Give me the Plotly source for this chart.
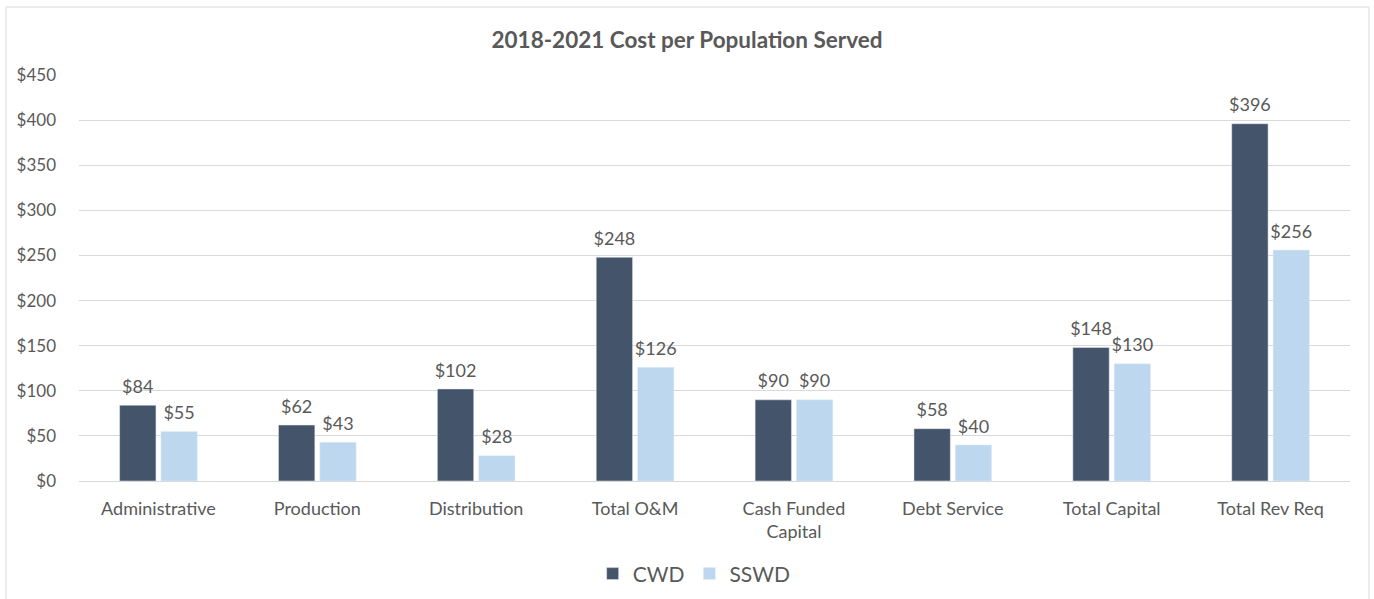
import plotly.graph_objects as go

categories = ["Administrative", "Production", "Distribution", "Total O&M",
              "Cash Funded<br>Capital", "Debt Service", "Total Capital", "Total Rev Req"]
cwd = [84, 62, 102, 248, 90, 58, 148, 396]
sswd = [55, 43, 28, 126, 90, 40, 130, 256]
y_ticks = [0, 50, 100, 150, 200, 250, 300, 350, 400, 450]

FONT = "Lato, Calibri, 'Open Sans', sans-serif"
GREY = "#595959"

fig = go.Figure()
for name, values, color, group in [("CWD", cwd, "#44546A", "a"),
                                   ("SSWD", sswd, "#BDD7EE", "b")]:
    fig.add_trace(go.Bar(
        x=categories, y=values, name=name, marker_color=color,
        offsetgroup=group,
    ))
    # value labels, grouped like the bars so they sit above them;
    # an invisible marker gives the extra gap above the bar top
    fig.add_trace(go.Scatter(
        x=categories, y=values, mode="markers+text", offsetgroup=group,
        text=[f"${v}" for v in values], textposition="top center",
        marker={"size": 11, "color": "rgba(0,0,0,0)"}, cliponaxis=False,
        showlegend=False, hoverinfo="skip",
        textfont={"size": 18, "color": GREY},
    ))

# light frame around the whole chart, as in the spreadsheet export
fig.add_shape(type="rect", xref="paper", yref="paper",
              x0=-0.0574, x1=1.0149, y0=-0.31, y1=1.1675,
              line={"color": "#D9D9D9", "width": 1}, layer="below")

fig.update_layout(
    width=1374, height=599,
    title={"text": "<b>2018-2021 Cost per Population Served</b>",
           "x": 0.5, "xanchor": "center", "y": 0.933, "yanchor": "middle",
           "font": {"size": 22.5, "color": GREY, "family": FONT}},
    font={"family": FONT, "color": GREY, "size": 17},
    barmode="group", bargap=0.48, bargroupgap=0.12,
    scattermode="group",
    plot_bgcolor="white", paper_bgcolor="white",
    margin={"l": 79, "r": 24, "t": 75, "b": 118, "autoexpand": False},
    legend={"orientation": "h", "x": 0.484, "xanchor": "center",
            "y": -0.229, "yanchor": "middle", "font": {"size": 21},
            "traceorder": "normal"},
    xaxis={"tickfont": {"size": 18}, "showline": True, "linecolor": "#D9D9D9",
           "ticks": "", "ticklabelstandoff": 11},
    yaxis={"range": [0, 450], "tickvals": y_ticks,
           "ticktext": [f"${v}" for v in y_ticks],
           "gridcolor": "#D9D9D9", "zeroline": False, "ticks": "",
           "ticklabelstandoff": 22, "tickfont": {"size": 17}},
)

fig.write_html("out.html", config={"displayModeBar": False},
               post_script="document.body.style.margin='0px';")
